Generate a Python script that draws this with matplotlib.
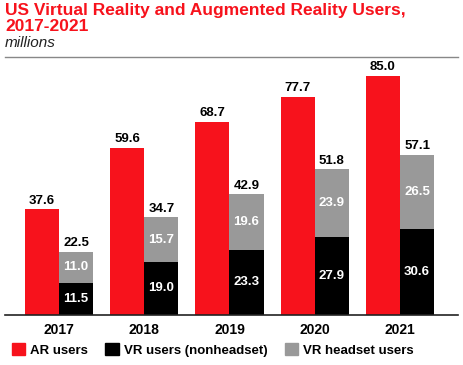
import matplotlib
matplotlib.use("Agg")
import matplotlib.pyplot as plt
from matplotlib.patches import Patch
import numpy as np

years = ["2017", "2018", "2019", "2020", "2021"]
ar_users = [37.6, 59.6, 68.7, 77.7, 85.0]
vr_nonheadset = [11.5, 19.0, 23.3, 27.9, 30.6]
vr_headset = [11.0, 15.7, 19.6, 23.9, 26.5]
vr_total = [22.5, 34.7, 42.9, 51.8, 57.1]

RED = "#f7121c"
BLACK = "#000000"
GRAY = "#999999"

plt.rcParams['font.family'] = ['Liberation Sans', 'DejaVu Sans']

W, H = 463, 365
fig = plt.figure(figsize=(W / 100, H / 100), dpi=100)
left_px, right_px, bot_px, top_px = 5, 458, 315, 60
ax = fig.add_axes([left_px / W, 1 - bot_px / H, (right_px - left_px) / W, (bot_px - top_px) / H])

x = np.arange(len(years))
w = 0.4
ax.bar(x - w / 2, ar_users, w, color=RED, linewidth=0)
ax.bar(x + w / 2, vr_nonheadset, w, color=BLACK, linewidth=0)
ax.bar(x + w / 2, vr_headset, w, bottom=vr_nonheadset, color=GRAY, linewidth=0)

for i in range(len(years)):
    ax.text(x[i] - w / 2, ar_users[i] + 1.0, f"{ar_users[i]:.1f}", ha="center", va="bottom",
            fontsize=9.5, fontweight="bold", color="black")
    ax.text(x[i] + w / 2, vr_total[i] + 1.0, f"{vr_total[i]:.1f}", ha="center", va="bottom",
            fontsize=9.5, fontweight="bold", color="black")
    ax.text(x[i] + w / 2, vr_nonheadset[i] / 2, f"{vr_nonheadset[i]:.1f}", ha="center", va="center",
            fontsize=9.5, fontweight="bold", color="white")
    ax.text(x[i] + w / 2, vr_nonheadset[i] + vr_headset[i] / 2, f"{vr_headset[i]:.1f}", ha="center",
            va="center", fontsize=9.5, fontweight="bold", color="white")

ax.set_xlim(-0.633, 4.68)
ax.set_ylim(0, (bot_px - top_px) / 2.81)
ax.set_xticks(x)
ax.set_xticklabels(years, fontsize=10, fontweight="bold")
ax.tick_params(axis="x", length=0, pad=6)
ax.set_yticks([])
for s in ["top", "right", "left"]:
    ax.spines[s].set_visible(False)
ax.spines["bottom"].set_linewidth(1.2)
ax.spines["bottom"].set_color("#222222")

fig.text(5 / W, 1 - 3 / H, "US Virtual Reality and Augmented Reality Users,\n2017-2021",
         ha="left", va="top", fontsize=12.5, fontweight="bold", color=RED, linespacing=1.05)
fig.text(5 / W, 1 - 36 / H, "millions", ha="left", va="top", fontsize=11, style="italic",
         color="#222222")
fig.add_artist(plt.Line2D([5 / W, 458 / W], [1 - 57 / H, 1 - 57 / H], color="#888888", linewidth=1.0))

handles = [Patch(color=RED, label="AR users"),
           Patch(color=BLACK, label="VR users (nonheadset)"),
           Patch(color=GRAY, label="VR headset users")]
leg = fig.legend(handles=handles, loc="center left", bbox_to_anchor=(0 / W, 1 - 350 / H), ncol=3,
                 frameon=False, handlelength=1.0, handleheight=1.0, handletextpad=0.4,
                 columnspacing=1.3, prop={"weight": "bold", "size": 9.5})

fig.savefig("out.png", dpi=100)
